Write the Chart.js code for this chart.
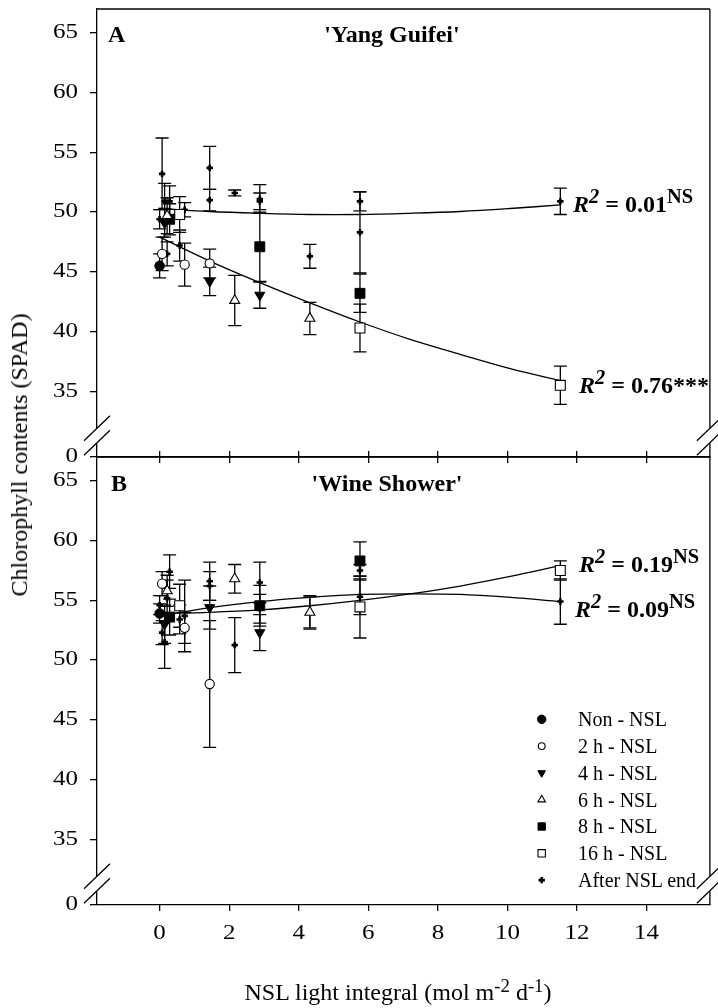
<!doctype html>
<html lang="en">
<head>
<meta charset="utf-8">
<title>Chlorophyll contents vs NSL light integral</title>
<style>
  * { margin: 0; padding: 0; }
  body {
    width: 718px; height: 1008px; position: relative; overflow: hidden;
    background: #fff; color: #000;
    font-family: 'Liberation Serif', 'Times New Roman', serif;
  }
  canvas { position: absolute; left: 0; }
  .txt { position: absolute; white-space: nowrap; line-height: 1; }
  .panel { font-size: 24px; font-weight: bold; }
  .r2 { font-size: 24px; font-weight: bold; }
  .r2 sup { font-size: 0.85em; vertical-align: 0.42em; line-height: 0; }
  .leg { font-size: 20px; left: 578px; }
  .axt { font-size: 24px; }
  .axt sup { font-size: 0.78em; vertical-align: 0.45em; line-height: 0; }
</style>
</head>
<body>
<canvas id="chartA" width="718" height="470" style="top:0"></canvas>
<canvas id="chartB" width="718" height="564" style="top:444px"></canvas>

<div class="txt panel" style="left:108px;top:22px">A</div>
<div class="txt panel" style="left:392px;top:22px;transform:translateX(-50%)">'Yang Guifei'</div>
<div class="txt panel" style="left:111px;top:471px">B</div>
<div class="txt panel" style="left:387px;top:471px;transform:translateX(-50%)">'Wine Shower'</div>

<div class="txt r2" style="left:573px;top:192px"><i>R</i><sup><i>2</i></sup> = 0.01<sup>NS</sup></div>
<div class="txt r2" style="left:579px;top:373px"><i>R</i><sup><i>2</i></sup> = 0.76***</div>
<div class="txt r2" style="left:579px;top:552px"><i>R</i><sup><i>2</i></sup> = 0.19<sup>NS</sup></div>
<div class="txt r2" style="left:575px;top:597px"><i>R</i><sup><i>2</i></sup> = 0.09<sup>NS</sup></div>

<div class="txt leg" style="top:709px">Non - NSL</div>
<div class="txt leg" style="top:736px">2 h - NSL</div>
<div class="txt leg" style="top:763px">4 h - NSL</div>
<div class="txt leg" style="top:790px">6 h - NSL</div>
<div class="txt leg" style="top:816px">8 h - NSL</div>
<div class="txt leg" style="top:843px">16 h - NSL</div>
<div class="txt leg" style="top:870px">After NSL end</div>

<div class="txt axt" style="left:398px;top:980px;transform:translateX(-50%)">NSL light integral (mol m<sup>-2</sup> d<sup>-1</sup>)</div>
<div class="txt axt" style="left:19px;top:455px;transform:translate(-50%,-50%) rotate(-90deg)">Chlorophyll contents (SPAD)</div>

<script src="https://cdn.jsdelivr.net/npm/chart.js"></script>
<script>
  // ---- data ----
  const xTicks = [0, 2, 4, 6, 8, 10, 12, 14];
  const yTicks = [35, 40, 45, 50, 55, 60, 65];
  const yZeroAt = 29.5;   // where the '0' label sits below the axis break

  // NSL light integral of each treatment
  const xNon = [0];
  const x2h = [0.072, 0.72, 1.44];
  const x4h = [0.144, 1.44, 2.88];
  const x6h = [0.216, 2.16, 4.32];
  const x8h = [0.288, 2.88, 5.76];
  const x16h = [0.576, 5.76, 11.52];
  const xAfter = [0, 0.072, 0.144, 0.216, 0.288, 0.576, 0.72, 1.44, 1.44, 2.16, 2.88, 2.88, 4.32, 5.76, 5.76, 11.52];

  // panel A - 'Yang Guifei'
  const aNon = [45.5],               aNonErr = [1.0];
  const a2h = [46.5, 45.6, 45.7],    a2hErr = [1.4, 1.8, 1.2];
  const a4h = [49.1, 44.2, 43.05],   a4hErr = [1.2, 1.2, 1.1];
  const a6h = [49.7, 42.6, 41.1],    a6hErr = [1.5, 2.1, 1.35];
  const a8h = [49.4, 47.1, 43.2],    a8hErr = [1.3, 2.9, 1.6];
  const a16h = [49.8, 40.3, 35.5],   a16hErr = [1.5, 2.0, 1.6];
  const aAfter = [49.4, 53.2, 50.9, 46.5, 50.9, 47.2, 50.2, 53.7, 51.0, 51.6, 51.1, 50.9, 46.3, 50.9, 48.3, 50.9];
  const aAfterErr = [0.8, 3.0, 1.5, 1.0, 1.3, 1.3, 0.6, 1.8, 0.9, 0.25, 1.2, 0.7, 1.0, 0.8, 3.4, 1.1];

  // panel B - 'Wine Shower'
  const bNon = [53.9],               bNonErr = [0.8];
  const b2h = [56.4, 52.7, 48.0],    b2hErr = [1.0, 1.3, 5.3];
  const b4h = [53.0, 54.4, 52.3],    b4hErr = [1.6, 1.8, 1.5];
  const b6h = [55.8, 56.8, 54.0],    b6hErr = [1.3, 1.2, 1.4];
  const b8h = [53.6, 54.55, 58.3],   b8hErr = [1.5, 1.7, 1.6];
  const b16h = [54.55, 54.45, 57.5], b16hErr = [1.8, 2.6, 0.8];
  const bAfter = [54.6, 52.3, 51.5, 55.2, 57.4, 53.4, 53.7, 56.6, 56.2, 51.25, 56.5, 54.3, 54.0, 57.5, 55.3, 54.9];
  const bAfterErr = [0.8, 1.0, 2.2, 1.5, 1.4, 1.2, 3.0, 1.6, 1.2, 2.3, 1.7, 1.2, 1.3, 0.5, 1.5, 1.9];

  // regression curves, read at a few points along each line
  const fitX = [0, 1.44, 2.88, 4.32, 5.76, 7.2, 8.64, 10.08, 11.52];
  const fitANsl = [47.9, 45.9, 44.1, 42.4, 40.8, 39.35, 38.1, 36.9, 35.9];
  const fitAAfter = [50.3, 50.05, 49.9, 49.8, 49.8, 49.9, 50.05, 50.3, 50.6];
  const fitBNsl = [53.9, 54.0, 54.2, 54.55, 55.0, 55.55, 56.2, 57.0, 57.9];
  const fitBAfter = [53.7, 54.4, 54.9, 55.25, 55.5, 55.55, 55.5, 55.25, 54.9];

  const seriesNames = ['Non - NSL', '2 h - NSL', '4 h - NSL', '6 h - NSL', '8 h - NSL', '16 h - NSL', 'After NSL end'];

  // ---- look ----
  const markers = [
    {pointStyle: 'circle', radius: 4.8, fill: '#000', lw: 1, legR: 4.2},
    {pointStyle: 'circle', radius: 4.6, fill: '#fff', lw: 1.1, legR: 3.4},
    {pointStyle: 'triangle', radius: 5.8, rotation: 180, fill: '#000', lw: 1, legR: 4.4},
    {pointStyle: 'triangle', radius: 5.8, fill: '#fff', lw: 1.1, legR: 4.4},
    {pointStyle: 'rect', radius: 7, fill: '#000', lw: 1, legR: 5.2},
    {pointStyle: 'rect', radius: 7, fill: '#fff', lw: 1.1, legR: 5.2},
    {pointStyle: 'cross', radius: 3.2, fill: '#000', lw: 2.6, legR: 3.2}
  ];
  const xMin = -1.8, xMax = 15.82;
  const yMin = 29.5, yMax = 67.0;
  const gapHi = 31.9, gapLo = 30.7;   // axis break

  function pts(xs, ys) {
    return xs.map((x, i) => ({x: x, y: ys[i]}));
  }

  function buildDatasets(ys, errs, fitNsl, fitAfter) {
    const xs = [xNon, x2h, x4h, x6h, x8h, x16h, xAfter];
    const sets = xs.map((x, i) => ({
      label: seriesNames[i],
      data: pts(x, ys[i]),
      errors: errs[i],
      pointStyle: markers[i].pointStyle,
      pointRadius: markers[i].radius,
      pointRotation: markers[i].rotation || 0,
      pointBackgroundColor: markers[i].fill,
      pointBorderColor: '#000',
      pointBorderWidth: markers[i].lw,
      showLine: false,
      order: 0
    }));
    [fitNsl, fitAfter].forEach(f => sets.push({
      label: 'fit',
      data: pts(fitX, f),
      showLine: true,
      borderColor: '#000',
      borderWidth: 1.3,
      pointRadius: 0,
      tension: 0.35,
      fill: false,
      order: 1
    }));
    return sets;
  }

  // tick labels in the figure are a wide serif, stretch canvas text a bit
  const wideText = {
    id: 'wideText',
    beforeDraw(chart) {
      const ctx = chart.ctx;
      if (ctx._wide) return;
      ctx._wide = true;
      const fill = ctx.fillText;
      ctx.fillText = function (text, x, y, maxWidth) {
        this.save();
        this.translate(x, y);
        this.scale(1.25, 1);
        if (maxWidth === undefined) fill.call(this, text, 0, 0);
        else fill.call(this, text, 0, 0, maxWidth / 1.25);
        this.restore();
      };
    }
  };

  const errorBars = {
    id: 'errorBars',
    beforeDatasetsDraw(chart) {
      const {ctx, scales: {x, y}} = chart;
      ctx.save();
      ctx.strokeStyle = '#000';
      ctx.lineWidth = 1.3;
      chart.data.datasets.forEach(ds => {
        if (!ds.errors) return;
        ds.data.forEach((p, i) => {
          const px = x.getPixelForValue(p.x);
          const top = y.getPixelForValue(p.y + ds.errors[i]);
          const bot = y.getPixelForValue(p.y - ds.errors[i]);
          ctx.beginPath();
          ctx.moveTo(px, top); ctx.lineTo(px, bot);
          ctx.moveTo(px - 6.5, top); ctx.lineTo(px + 6.5, top);
          ctx.moveTo(px - 6.5, bot); ctx.lineTo(px + 6.5, bot);
          ctx.stroke();
        });
      });
      ctx.restore();
    }
  };

  // box round the plot + the // breaks on both y axes
  const frame = {
    id: 'frame',
    afterDraw(chart) {
      const {ctx, chartArea: a, scales: {y}} = chart;
      const g1 = y.getPixelForValue(gapHi), g2 = y.getPixelForValue(gapLo);
      ctx.save();
      ctx.clearRect(a.left - 2, g1, 4, g2 - g1);
      ctx.strokeStyle = '#000';
      ctx.lineWidth = 1.3;
      ctx.beginPath();
      ctx.moveTo(a.left, a.top); ctx.lineTo(a.right, a.top);
      ctx.moveTo(a.right, a.top); ctx.lineTo(a.right, g1);
      ctx.moveTo(a.right, g2); ctx.lineTo(a.right, a.bottom);
      [a.left, a.right].forEach(xx => {
        [g1, g2].forEach(gy => {
          ctx.moveTo(xx - 13, gy + 12.5);
          ctx.lineTo(xx + 13, gy - 12.5);
        });
      });
      ctx.stroke();
      ctx.restore();
    }
  };

  // legend symbols (labels are html next to them)
  const legendMarks = {
    id: 'legendMarks',
    afterDraw(chart, args, opts) {
      if (!opts.show) return;
      const ctx = chart.ctx;
      markers.forEach((m, i) => {
        ctx.save();
        ctx.fillStyle = m.fill;
        ctx.strokeStyle = '#000';
        ctx.lineWidth = m.lw;
        Chart.helpers.drawPoint(ctx, {pointStyle: m.pointStyle, radius: m.legR, rotation: m.rotation || 0, borderWidth: m.lw},
          opts.x, opts.y0 + i * opts.dy);
        ctx.restore();
      });
    }
  };

  const tickFont = {family: "'Liberation Serif', 'Times New Roman', serif", size: 20};

  function xScale(position, showLabels, height) {
    return {
      type: 'linear', position: position, min: xMin, max: xMax,
      afterBuildTicks: s => { s.ticks = xTicks.map(v => ({value: v})); },
      afterFit: s => { s.height = height; s.paddingLeft = 0; s.paddingRight = 0; },
      ticks: {display: showLabels, color: '#000', font: tickFont, padding: 11, autoSkip: false, maxRotation: 0},
      grid: {drawOnChartArea: false, drawTicks: true, tickLength: 6, color: '#000', lineWidth: 1.3},
      border: {display: true, color: '#000', width: 1.3}
    };
  }

  function yScale() {
    return {
      type: 'linear', min: yMin, max: yMax,
      afterBuildTicks: s => { s.ticks = [yZeroAt].concat(yTicks).map(v => ({value: v})); },
      afterFit: s => { s.width = 97; s.paddingTop = 0; s.paddingBottom = 0; },
      ticks: {color: '#000', font: tickFont, padding: 12, autoSkip: false,
              callback: v => (v === yZeroAt ? '0' : v)},
      grid: {drawOnChartArea: false, drawTicks: true, tickLength: 7, color: '#000', lineWidth: 1.3},
      border: {display: true, color: '#000', width: 1.3}
    };
  }

  function makeChart(id, datasets, scales, padding, legendOpts) {
    return new Chart(document.getElementById(id), {
      type: 'scatter',
      data: {datasets: datasets},
      options: {
        responsive: false,
        animation: false,
        layout: {padding: padding},
        scales: scales,
        plugins: {
          legend: {display: false},
          tooltip: {enabled: false},
          legendMarks: legendOpts
        }
      },
      plugins: [wideText, errorBars, frame, legendMarks]
    });
  }

  const chartA = makeChart('chartA',
    buildDatasets([aNon, a2h, a4h, a6h, a8h, a16h, aAfter],
                  [aNonErr, a2hErr, a4hErr, a6hErr, a8hErr, a16hErr, aAfterErr], fitANsl, fitAAfter),
    {x: xScale('bottom', false, 13), y: yScale()},
    {top: 9, right: 1, bottom: 0, left: 0},
    {show: false});

  const chartB = makeChart('chartB',
    buildDatasets([bNon, b2h, b4h, b6h, b8h, b16h, bAfter],
                  [bNonErr, b2hErr, b4hErr, b6hErr, b8hErr, b16hErr, bAfterErr], fitBNsl, fitBAfter),
    {x: xScale('bottom', true, 103), x2: xScale('top', false, 13), y: yScale()},
    {top: 0, right: 1, bottom: 0, left: 0},
    {show: true, x: 541.7, y0: 275.3, dy: 26.8});
</script>
</body>
</html>
